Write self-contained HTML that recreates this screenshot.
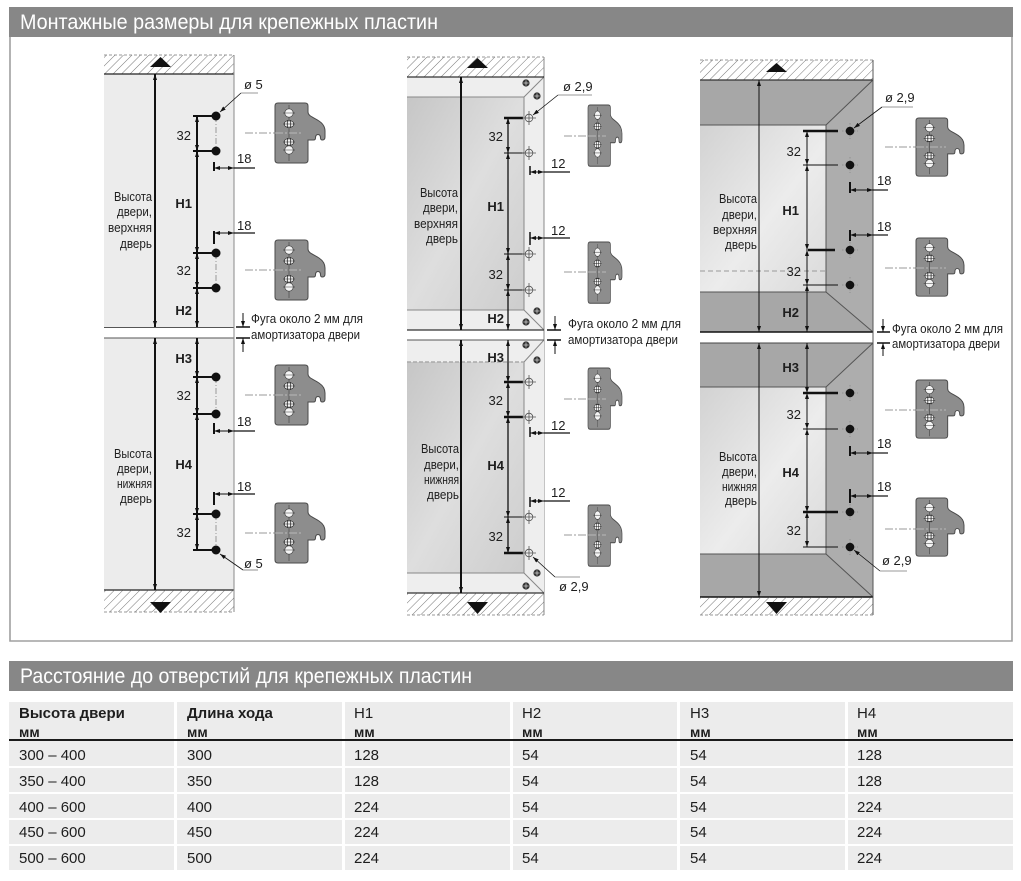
<!DOCTYPE html>
<html><head><meta charset="utf-8">
<style>
html,body{margin:0;padding:0;background:#fff;}
svg{display:block;}
text{font-family:"Liberation Sans","DejaVu Sans",sans-serif;fill:#1e1e1e;}
.w{fill:#fff;}
.b{font-weight:bold;}
.n{font-size:13px;}
.t{font-size:15px;}
</style></head><body>
<svg width="1021" height="881" viewBox="0 0 1021 881" xmlns="http://www.w3.org/2000/svg">
<defs>
<pattern id="hatch" patternUnits="userSpaceOnUse" width="6" height="6" patternTransform="rotate(45)">
  <line x1="0" y1="0" x2="0" y2="6" stroke="#555" stroke-width="0.8"/>
</pattern>
<marker id="ar" viewBox="0 0 6 4" refX="6" refY="2" markerWidth="6" markerHeight="4" markerUnits="userSpaceOnUse" orient="auto-start-reverse"><path d="M0,0 L6,2 L0,4 z" fill="#111"/></marker>
<linearGradient id="g2" x1="0" y1="0" x2="1" y2="1">
  <stop offset="0" stop-color="#c6c6c6"/><stop offset="0.5" stop-color="#dedede"/><stop offset="1" stop-color="#cdcdcd"/>
</linearGradient>
<linearGradient id="g3" x1="0" y1="0" x2="1" y2="1">
  <stop offset="0" stop-color="#d2d2d2"/><stop offset="0.55" stop-color="#ececec"/><stop offset="1" stop-color="#dadada"/>
</linearGradient>
<g id="pl">
<path d="M3,0 H30 Q33,0 33,3 V9 C33,13 38,14 44,18 Q50,22 50,28 V34 Q50,37 47.5,37 Q45.5,37 45.5,35 Q45.5,31.5 43,31.5 Q40.5,31.5 40.5,35 Q40.5,37 38.5,37 H33 V57 Q33,60 30,60 H3 Q0,60 0,57 V3 Q0,0 3,0 Z" fill="#8d8d8d" stroke="#4a4a4a" stroke-width="1"/>
<line x1="14" y1="2" x2="14" y2="58" stroke="#333" stroke-width="0.5"/>
<circle cx="14" cy="10" r="4.2" fill="#f4f4f4" stroke="#333" stroke-width="0.6"/>
<line x1="8" y1="10" x2="20" y2="10" stroke="#333" stroke-width="0.5"/>
<rect x="9.5" y="18" width="9" height="6" rx="2.5" fill="#f4f4f4" stroke="#222" stroke-width="0.6"/>
<line x1="12.3" y1="17" x2="12.3" y2="25" stroke="#222" stroke-width="0.8"/>
<line x1="15.7" y1="17" x2="15.7" y2="25" stroke="#222" stroke-width="0.8"/>
<line x1="8" y1="21" x2="20" y2="21" stroke="#222" stroke-width="0.5"/>
<rect x="9.5" y="36" width="9" height="6" rx="2.5" fill="#f4f4f4" stroke="#222" stroke-width="0.6"/>
<line x1="12.3" y1="35" x2="12.3" y2="43" stroke="#222" stroke-width="0.8"/>
<line x1="15.7" y1="35" x2="15.7" y2="43" stroke="#222" stroke-width="0.8"/>
<line x1="8" y1="39" x2="20" y2="39" stroke="#222" stroke-width="0.5"/>
<circle cx="14" cy="47" r="4.2" fill="#f4f4f4" stroke="#333" stroke-width="0.6"/>
<line x1="8" y1="47" x2="20" y2="47" stroke="#333" stroke-width="0.5"/>
</g>
<g id="scr"><circle r="3.6" fill="#333"/><line x1="-2.5" y1="0" x2="2.5" y2="0" stroke="#ccc" stroke-width="0.8"/><line x1="0" y1="-2.5" x2="0" y2="2.5" stroke="#ccc" stroke-width="0.8"/></g>
</defs>

<!-- header 1 -->
<rect x="9" y="7" width="1004" height="30" fill="#878787"/>
<text x="20" y="29" class="w" font-size="21" textLength="418" lengthAdjust="spacingAndGlyphs">Монтажные размеры для крепежных пластин</text>
<!-- frame -->
<path d="M10,37 V641 H1012 V37" fill="none" stroke="#a0a0a0" stroke-width="1.6"/>

<!-- ================= PANEL 1 ================= -->
<rect x="104" y="55" width="130" height="19" fill="url(#hatch)"/>
<line x1="104" y1="55" x2="234" y2="55" stroke="#777" stroke-width="0.8" stroke-dasharray="3,2"/>
<polygon points="150,67 171,67 160.5,57" fill="#111"/>
<rect x="104" y="74" width="130" height="253" fill="#ececec"/>
<line x1="104" y1="74" x2="234" y2="74" stroke="#222" stroke-width="1.2"/>
<line x1="104" y1="327.5" x2="234" y2="327.5" stroke="#555" stroke-width="1"/>
<rect x="104" y="338" width="130" height="252" fill="#ececec"/>
<line x1="104" y1="338" x2="234" y2="338" stroke="#555" stroke-width="1"/>
<line x1="104" y1="590" x2="234" y2="590" stroke="#222" stroke-width="1.2"/>
<line x1="234" y1="55" x2="234" y2="612" stroke="#8a8a8a" stroke-width="1"/>
<rect x="104" y="590" width="130" height="22" fill="url(#hatch)"/>
<line x1="104" y1="612" x2="234" y2="612" stroke="#777" stroke-width="0.8" stroke-dasharray="3,2"/>
<polygon points="150,602 171,602 160.5,613" fill="#111"/>

<g stroke="#111" stroke-width="2" fill="none">
<line x1="155" y1="74" x2="155" y2="327" marker-start="url(#ar)" marker-end="url(#ar)"/>
<line x1="155" y1="338" x2="155" y2="590" marker-start="url(#ar)" marker-end="url(#ar)"/>
<line x1="197" y1="116" x2="197" y2="151" marker-start="url(#ar)" marker-end="url(#ar)"/>
<line x1="197" y1="151" x2="197" y2="253" marker-start="url(#ar)" marker-end="url(#ar)"/>
<line x1="197" y1="253" x2="197" y2="288" marker-start="url(#ar)" marker-end="url(#ar)"/>
<line x1="197" y1="288" x2="197" y2="327" marker-start="url(#ar)" marker-end="url(#ar)"/>
<line x1="197" y1="338" x2="197" y2="377" marker-start="url(#ar)" marker-end="url(#ar)"/>
<line x1="197" y1="377" x2="197" y2="414" marker-start="url(#ar)" marker-end="url(#ar)"/>
<line x1="197" y1="414" x2="197" y2="514" marker-start="url(#ar)" marker-end="url(#ar)"/>
<line x1="197" y1="514" x2="197" y2="550" marker-start="url(#ar)" marker-end="url(#ar)"/>
<path d="M193,116 H212 M193,151 H212 M193,253 H212 M193,288 H212 M193,377 H212 M193,414 H212 M193,514 H212 M193,550 H212"/>
</g>
<g stroke="#999" stroke-width="1" stroke-dasharray="6,2,1,2">
<line x1="216" y1="116" x2="216" y2="151"/><line x1="216" y1="253" x2="216" y2="288"/>
<line x1="216" y1="377" x2="216" y2="414"/><line x1="216" y1="514" x2="216" y2="550"/>
</g>
<g fill="#111">
<circle cx="216" cy="116" r="4.5"/><circle cx="216" cy="151" r="4.5"/><circle cx="216" cy="253" r="4.5"/><circle cx="216" cy="288" r="4.5"/>
<circle cx="216" cy="377" r="4.5"/><circle cx="216" cy="414" r="4.5"/><circle cx="216" cy="514" r="4.5"/><circle cx="216" cy="550" r="4.5"/>
</g>
<g stroke="#111" fill="none">
<line x1="214" y1="162" x2="214" y2="171" stroke-width="2"/>
<line x1="214" y1="168" x2="234" y2="168" stroke-width="1" marker-start="url(#ar)" marker-end="url(#ar)"/>
<line x1="234" y1="168" x2="255" y2="168" stroke-width="1.2"/>
<line x1="214" y1="231" x2="214" y2="244" stroke-width="2"/>
<line x1="214" y1="233" x2="234" y2="233" stroke-width="1" marker-start="url(#ar)" marker-end="url(#ar)"/>
<line x1="234" y1="233" x2="255" y2="233" stroke-width="1.2"/>
<line x1="214" y1="423" x2="214" y2="434" stroke-width="2"/>
<line x1="214" y1="431" x2="234" y2="431" stroke-width="1" marker-start="url(#ar)" marker-end="url(#ar)"/>
<line x1="234" y1="431" x2="255" y2="431" stroke-width="1.2"/>
<line x1="214" y1="492" x2="214" y2="505" stroke-width="2"/>
<line x1="214" y1="494" x2="234" y2="494" stroke-width="1" marker-start="url(#ar)" marker-end="url(#ar)"/>
<line x1="234" y1="494" x2="255" y2="494" stroke-width="1.2"/>
<path d="M241,93 L220,112" stroke-width="0.8" marker-end="url(#ar)"/>
<path d="M241,93 H258" stroke="#777" stroke-width="0.8"/>
<path d="M243,570 L220,554" stroke-width="0.8" marker-end="url(#ar)"/>
<path d="M243,570 H258" stroke="#777" stroke-width="0.8"/>
<path d="M236,327 H250 M236,338 H250" stroke-width="1.6"/>
<line x1="243" y1="313" x2="243" y2="327" stroke-width="1" marker-end="url(#ar)"/>
<line x1="243" y1="352" x2="243" y2="338" stroke-width="1" marker-end="url(#ar)"/>
</g>
<g class="n">
<text x="152" y="201" text-anchor="end" textLength="38" lengthAdjust="spacingAndGlyphs">Высота</text>
<text x="152" y="216" text-anchor="end" textLength="35" lengthAdjust="spacingAndGlyphs">двери,</text>
<text x="152" y="232" text-anchor="end" textLength="44" lengthAdjust="spacingAndGlyphs">верхняя</text>
<text x="152" y="248" text-anchor="end" textLength="32" lengthAdjust="spacingAndGlyphs">дверь</text>
<text x="152" y="458" text-anchor="end" textLength="38" lengthAdjust="spacingAndGlyphs">Высота</text>
<text x="152" y="473" text-anchor="end" textLength="35" lengthAdjust="spacingAndGlyphs">двери,</text>
<text x="152" y="488" text-anchor="end" textLength="35" lengthAdjust="spacingAndGlyphs">нижняя</text>
<text x="152" y="503" text-anchor="end" textLength="32" lengthAdjust="spacingAndGlyphs">дверь</text>
<text x="191" y="140" text-anchor="end">32</text>
<text x="192" y="208" text-anchor="end" class="b">H1</text>
<text x="191" y="275" text-anchor="end">32</text>
<text x="192" y="315" text-anchor="end" class="b">H2</text>
<text x="192" y="363" text-anchor="end" class="b">H3</text>
<text x="191" y="400" text-anchor="end">32</text>
<text x="192" y="469" text-anchor="end" class="b">H4</text>
<text x="191" y="537" text-anchor="end">32</text>
<text x="237" y="163">18</text>
<text x="237" y="230">18</text>
<text x="237" y="426">18</text>
<text x="237" y="491">18</text>
<text x="244" y="89">ø 5</text>
<text x="244" y="568">ø 5</text>
<text x="251" y="323" textLength="112" lengthAdjust="spacingAndGlyphs">Фуга около 2 мм для</text>
<text x="251" y="339" textLength="109" lengthAdjust="spacingAndGlyphs">амортизатора двери</text>
</g>
<use href="#pl" transform="translate(275,103)"/>
<use href="#pl" transform="translate(275,240)"/>
<use href="#pl" transform="translate(275,365)"/>
<use href="#pl" transform="translate(275,503)"/>
<g stroke="#777" stroke-width="0.8" stroke-dasharray="8,2,2,2">
<line x1="245" y1="133" x2="275" y2="133"/><line x1="245" y1="270" x2="275" y2="270"/>
<line x1="245" y1="395" x2="275" y2="395"/><line x1="245" y1="533" x2="275" y2="533"/>
</g>
<g stroke="#c8c8c8" stroke-width="0.8" stroke-dasharray="8,2,2,2">
<line x1="275" y1="133" x2="303" y2="133"/><line x1="275" y1="270" x2="303" y2="270"/>
<line x1="275" y1="395" x2="303" y2="395"/><line x1="275" y1="533" x2="303" y2="533"/>
</g>

<!-- ================= PANEL 2 ================= -->
<rect x="407" y="57" width="137" height="20" fill="url(#hatch)"/>
<line x1="407" y1="57" x2="544" y2="57" stroke="#777" stroke-width="0.8" stroke-dasharray="3,2"/>
<polygon points="467,68 488,68 477.5,58" fill="#111"/>
<rect x="407" y="77" width="137" height="253" fill="#eeeeee"/>
<rect x="407" y="97" width="117" height="213" fill="url(#g2)"/>
<g stroke="#888" stroke-width="1" fill="none">
<path d="M407,97 H524 V310 H407"/>
<path d="M524,97 L544,77 M524,310 L544,330"/>
<line x1="544" y1="57" x2="544" y2="615" stroke="#888"/>
</g>
<line x1="407" y1="77" x2="544" y2="77" stroke="#333" stroke-width="1.2"/>
<line x1="407" y1="330" x2="544" y2="330" stroke="#333" stroke-width="1.2"/>
<rect x="407" y="340" width="137" height="253" fill="#eeeeee"/>
<rect x="407" y="362" width="117" height="211" fill="url(#g2)"/>
<g stroke="#888" stroke-width="1" fill="none">
<path d="M407,573 H524 V362"/>
<path d="M524,362 L544,340 M524,573 L544,593"/>
</g>
<line x1="407" y1="362" x2="524" y2="362" stroke="#aaa" stroke-width="1.5" stroke-dasharray="4,2"/>
<line x1="407" y1="340" x2="544" y2="340" stroke="#555" stroke-width="1"/>
<line x1="407" y1="593" x2="544" y2="593" stroke="#333" stroke-width="1.2"/>
<rect x="407" y="593" width="137" height="22" fill="url(#hatch)"/>
<line x1="407" y1="615" x2="544" y2="615" stroke="#777" stroke-width="0.8" stroke-dasharray="3,2"/>
<polygon points="467,602 488,602 477.5,614" fill="#111"/>
<use href="#scr" transform="translate(526,83)"/><use href="#scr" transform="translate(537,96)"/>
<use href="#scr" transform="translate(537,311)"/><use href="#scr" transform="translate(526,322)"/>
<use href="#scr" transform="translate(526,345)"/><use href="#scr" transform="translate(537,360)"/>
<use href="#scr" transform="translate(537,573)"/><use href="#scr" transform="translate(526,586)"/>

<g stroke="#111" fill="none">
<line x1="461" y1="77" x2="461" y2="330" stroke-width="2" marker-start="url(#ar)" marker-end="url(#ar)"/>
<line x1="461" y1="340" x2="461" y2="593" stroke-width="2" marker-start="url(#ar)" marker-end="url(#ar)"/>
<g stroke-width="1.3">
<line x1="508" y1="118" x2="508" y2="153" marker-start="url(#ar)" marker-end="url(#ar)"/>
<line x1="508" y1="153" x2="508" y2="254" marker-start="url(#ar)" marker-end="url(#ar)"/>
<line x1="508" y1="254" x2="508" y2="290" marker-start="url(#ar)" marker-end="url(#ar)"/>
<line x1="508" y1="290" x2="508" y2="330" marker-start="url(#ar)" marker-end="url(#ar)"/>
<line x1="508" y1="340" x2="508" y2="382" marker-start="url(#ar)" marker-end="url(#ar)"/>
<line x1="508" y1="382" x2="508" y2="417" marker-start="url(#ar)" marker-end="url(#ar)"/>
<line x1="508" y1="417" x2="508" y2="517" marker-start="url(#ar)" marker-end="url(#ar)"/>
<line x1="508" y1="517" x2="508" y2="553" marker-start="url(#ar)" marker-end="url(#ar)"/>
</g>
<path d="M504,118 H523 M504,382 H523 M504,417 H523 M504,553 H523" stroke-width="2.5"/>
<path d="M504,153 H524 M504,254 H524 M504,290 H524 M504,517 H524" stroke-width="1"/>
</g>
<g stroke="#555" stroke-width="0.8" fill="none">
<circle cx="529" cy="118" r="3.8"/><circle cx="529" cy="153" r="3.8"/><circle cx="529" cy="254" r="3.8"/><circle cx="529" cy="290" r="3.8"/>
<circle cx="529" cy="382" r="3.8"/><circle cx="529" cy="417" r="3.8"/><circle cx="529" cy="517" r="3.8"/><circle cx="529" cy="553" r="3.8"/>
<path d="M522,118 H536 M529,111 V125 M522,153 H536 M529,146 V160 M522,254 H536 M529,247 V261 M522,290 H536 M529,283 V297 M522,382 H536 M529,375 V389 M522,417 H536 M529,410 V424 M522,517 H536 M529,510 V524 M522,553 H536 M529,546 V560"/>
</g>
<g stroke="#111" fill="none">
<line x1="530" y1="166" x2="530" y2="175" stroke-width="1.5"/>
<line x1="530" y1="172" x2="544" y2="172" stroke-width="1" marker-start="url(#ar)" marker-end="url(#ar)"/>
<line x1="544" y1="172" x2="570" y2="172" stroke-width="1.2"/>
<line x1="530" y1="232" x2="530" y2="245" stroke-width="1.5"/>
<line x1="530" y1="238" x2="544" y2="238" stroke-width="1" marker-start="url(#ar)" marker-end="url(#ar)"/>
<line x1="544" y1="238" x2="570" y2="238" stroke-width="1.2"/>
<line x1="530" y1="427" x2="530" y2="437" stroke-width="1.5"/>
<line x1="530" y1="433" x2="544" y2="433" stroke-width="1" marker-start="url(#ar)" marker-end="url(#ar)"/>
<line x1="544" y1="433" x2="570" y2="433" stroke-width="1.2"/>
<line x1="530" y1="497" x2="530" y2="507" stroke-width="1.5"/>
<line x1="530" y1="501" x2="544" y2="501" stroke-width="1" marker-start="url(#ar)" marker-end="url(#ar)"/>
<line x1="544" y1="501" x2="570" y2="501" stroke-width="1.2"/>
<path d="M558,95 L533,115" stroke-width="0.8" marker-end="url(#ar)"/>
<path d="M558,95 H592" stroke="#777" stroke-width="0.8"/>
<path d="M555,577 L533,557" stroke-width="0.8" marker-end="url(#ar)"/>
<path d="M555,577 H580" stroke="#777" stroke-width="0.8"/>
<path d="M547,330 H561 M547,340 H561" stroke-width="1.6"/>
<line x1="555" y1="316" x2="555" y2="330" stroke-width="1" marker-end="url(#ar)"/>
<line x1="555" y1="354" x2="555" y2="340" stroke-width="1" marker-end="url(#ar)"/>
</g>
<g class="n">
<text x="458" y="197" text-anchor="end" textLength="38" lengthAdjust="spacingAndGlyphs">Высота</text>
<text x="458" y="212" text-anchor="end" textLength="35" lengthAdjust="spacingAndGlyphs">двери,</text>
<text x="458" y="228" text-anchor="end" textLength="44" lengthAdjust="spacingAndGlyphs">верхняя</text>
<text x="458" y="243" text-anchor="end" textLength="32" lengthAdjust="spacingAndGlyphs">дверь</text>
<text x="459" y="453" text-anchor="end" textLength="38" lengthAdjust="spacingAndGlyphs">Высота</text>
<text x="459" y="469" text-anchor="end" textLength="35" lengthAdjust="spacingAndGlyphs">двери,</text>
<text x="459" y="484" text-anchor="end" textLength="35" lengthAdjust="spacingAndGlyphs">нижняя</text>
<text x="459" y="499" text-anchor="end" textLength="32" lengthAdjust="spacingAndGlyphs">дверь</text>
<text x="503" y="141" text-anchor="end">32</text>
<text x="504" y="211" text-anchor="end" class="b">H1</text>
<text x="503" y="279" text-anchor="end">32</text>
<text x="504" y="323" text-anchor="end" class="b">H2</text>
<text x="504" y="362" text-anchor="end" class="b">H3</text>
<text x="503" y="405" text-anchor="end">32</text>
<text x="504" y="470" text-anchor="end" class="b">H4</text>
<text x="503" y="541" text-anchor="end">32</text>
<text x="551" y="168">12</text>
<text x="551" y="235">12</text>
<text x="551" y="430">12</text>
<text x="551" y="497">12</text>
<text x="563" y="91">ø 2,9</text>
<text x="559" y="591">ø 2,9</text>
<text x="568" y="328" textLength="113" lengthAdjust="spacingAndGlyphs">Фуга около 2 мм для</text>
<text x="568" y="344" textLength="110" lengthAdjust="spacingAndGlyphs">амортизатора двери</text>
</g>
<use href="#pl" transform="translate(588,105) scale(0.68,1.02)"/>
<use href="#pl" transform="translate(588,242) scale(0.68,1.02)"/>
<use href="#pl" transform="translate(588,368) scale(0.68,1.02)"/>
<use href="#pl" transform="translate(588,505) scale(0.68,1.02)"/>
<g stroke="#777" stroke-width="0.8" stroke-dasharray="8,2,2,2">
<line x1="564" y1="136" x2="588" y2="136"/><line x1="564" y1="272" x2="588" y2="272"/>
<line x1="564" y1="399" x2="588" y2="399"/><line x1="564" y1="535" x2="588" y2="535"/>
</g>
<g stroke="#c8c8c8" stroke-width="0.8" stroke-dasharray="8,2,2,2">
<line x1="588" y1="136" x2="606" y2="136"/><line x1="588" y1="272" x2="606" y2="272"/>
<line x1="588" y1="399" x2="606" y2="399"/><line x1="588" y1="535" x2="606" y2="535"/>
</g>

<!-- ================= PANEL 3 ================= -->
<rect x="700" y="60" width="173" height="20" fill="url(#hatch)"/>
<line x1="700" y1="60" x2="873" y2="60" stroke="#777" stroke-width="0.8" stroke-dasharray="3,2"/>
<polygon points="766,72 787,72 776.5,63" fill="#111"/>
<rect x="700" y="80" width="173" height="252" fill="#a7a7a7"/>
<polygon points="826,125 873,80 873,332 826,292" fill="#adadad"/>
<rect x="700" y="125" width="126" height="167" fill="url(#g3)"/>
<g stroke="#555" stroke-width="1" fill="none">
<path d="M700,125 H826 V292 H700"/>
<path d="M826,125 L873,80 M826,292 L873,332"/>
</g>
<line x1="700" y1="271" x2="826" y2="271" stroke="#999" stroke-width="1" stroke-dasharray="5,3"/>
<line x1="700" y1="80" x2="873" y2="80" stroke="#333" stroke-width="1.2"/>
<line x1="700" y1="332" x2="873" y2="332" stroke="#111" stroke-width="1.6"/>
<rect x="700" y="343" width="173" height="254" fill="#a7a7a7"/>
<polygon points="826,387 873,343 873,597 826,554" fill="#adadad"/>
<rect x="700" y="387" width="126" height="167" fill="url(#g3)"/>
<g stroke="#555" stroke-width="1" fill="none">
<path d="M700,387 H826 V554 H700"/>
<path d="M826,387 L873,343 M826,554 L873,597"/>
</g>
<line x1="700" y1="343" x2="873" y2="343" stroke="#444" stroke-width="1"/>
<line x1="700" y1="597" x2="873" y2="597" stroke="#111" stroke-width="1.4"/>
<line x1="873" y1="60" x2="873" y2="615" stroke="#555" stroke-width="1"/>
<rect x="700" y="597" width="173" height="18" fill="url(#hatch)"/>
<line x1="700" y1="615" x2="873" y2="615" stroke="#777" stroke-width="0.8" stroke-dasharray="3,2"/>
<polygon points="766,602 787,602 776.5,614" fill="#111"/>

<g stroke="#111" fill="none" stroke-width="1">
<line x1="759" y1="80" x2="759" y2="332" marker-start="url(#ar)" marker-end="url(#ar)"/>
<line x1="759" y1="343" x2="759" y2="597" marker-start="url(#ar)" marker-end="url(#ar)"/>
<line x1="807" y1="131" x2="807" y2="165" marker-start="url(#ar)" marker-end="url(#ar)"/>
<line x1="807" y1="165" x2="807" y2="250" marker-start="url(#ar)" marker-end="url(#ar)"/>
<line x1="807" y1="250" x2="807" y2="285" marker-start="url(#ar)" marker-end="url(#ar)"/>
<line x1="807" y1="285" x2="807" y2="332" marker-start="url(#ar)" marker-end="url(#ar)"/>
<line x1="807" y1="343" x2="807" y2="393" marker-start="url(#ar)" marker-end="url(#ar)"/>
<line x1="807" y1="393" x2="807" y2="429" marker-start="url(#ar)" marker-end="url(#ar)"/>
<line x1="807" y1="429" x2="807" y2="512" marker-start="url(#ar)" marker-end="url(#ar)"/>
<line x1="807" y1="512" x2="807" y2="547" marker-start="url(#ar)" marker-end="url(#ar)"/>
<path d="M803,131 H838 M808,250 H835 M803,393 H838 M803,512 H838" stroke-width="2.5"/>
<path d="M803,165 H838 M803,285 H838 M803,429 H838 M803,547 H838" stroke-width="1"/>
</g>
<g stroke="#888" stroke-width="0.8" stroke-dasharray="1.5,1.5">
<path d="M842,131 H858 M850,123 V139 M842,165 H858 M850,157 V173 M842,250 H858 M850,242 V258 M842,285 H858 M850,277 V293 M842,393 H858 M850,385 V401 M842,429 H858 M850,421 V437 M842,512 H858 M850,504 V520 M842,547 H858 M850,539 V555"/>
</g>
<g fill="#111">
<circle cx="850" cy="131" r="4.3"/><circle cx="850" cy="165" r="4.3"/><circle cx="850" cy="250" r="4.3"/><circle cx="850" cy="285" r="4.3"/>
<circle cx="850" cy="393" r="4.3"/><circle cx="850" cy="429" r="4.3"/><circle cx="850" cy="512" r="4.3"/><circle cx="850" cy="547" r="4.3"/>
</g>
<g stroke="#111" fill="none">
<line x1="850" y1="182" x2="850" y2="193" stroke-width="2"/>
<line x1="850" y1="190" x2="873" y2="190" stroke-width="1" marker-start="url(#ar)" marker-end="url(#ar)"/>
<line x1="873" y1="190" x2="888" y2="190" stroke-width="1.2"/>
<line x1="850" y1="230" x2="850" y2="241" stroke-width="2"/>
<line x1="850" y1="235" x2="873" y2="235" stroke-width="1" marker-start="url(#ar)" marker-end="url(#ar)"/>
<line x1="873" y1="235" x2="888" y2="235" stroke-width="1.2"/>
<line x1="850" y1="446" x2="850" y2="456" stroke-width="2"/>
<line x1="850" y1="453" x2="873" y2="453" stroke-width="1" marker-start="url(#ar)" marker-end="url(#ar)"/>
<line x1="873" y1="453" x2="888" y2="453" stroke-width="1.2"/>
<line x1="850" y1="489" x2="850" y2="503" stroke-width="2"/>
<line x1="850" y1="496" x2="873" y2="496" stroke-width="1" marker-start="url(#ar)" marker-end="url(#ar)"/>
<line x1="873" y1="496" x2="888" y2="496" stroke-width="1.2"/>
<path d="M882,107 L854,128" stroke-width="0.8" marker-end="url(#ar)"/>
<path d="M882,107 H913" stroke="#777" stroke-width="0.8"/>
<path d="M880,571 L854,550" stroke-width="0.8" marker-end="url(#ar)"/>
<path d="M880,571 H907" stroke="#777" stroke-width="0.8"/>
<path d="M877,332 H890 M877,343 H890" stroke-width="1.6"/>
<line x1="883" y1="319" x2="883" y2="332" stroke-width="1" marker-end="url(#ar)"/>
<line x1="883" y1="356" x2="883" y2="343" stroke-width="1" marker-end="url(#ar)"/>
</g>
<g class="n">
<text x="757" y="203" text-anchor="end" textLength="38" lengthAdjust="spacingAndGlyphs">Высота</text>
<text x="757" y="219" text-anchor="end" textLength="35" lengthAdjust="spacingAndGlyphs">двери,</text>
<text x="757" y="234" text-anchor="end" textLength="44" lengthAdjust="spacingAndGlyphs">верхняя</text>
<text x="757" y="249" text-anchor="end" textLength="32" lengthAdjust="spacingAndGlyphs">дверь</text>
<text x="757" y="461" text-anchor="end" textLength="38" lengthAdjust="spacingAndGlyphs">Высота</text>
<text x="757" y="476" text-anchor="end" textLength="35" lengthAdjust="spacingAndGlyphs">двери,</text>
<text x="757" y="491" text-anchor="end" textLength="35" lengthAdjust="spacingAndGlyphs">нижняя</text>
<text x="757" y="505" text-anchor="end" textLength="32" lengthAdjust="spacingAndGlyphs">дверь</text>
<text x="801" y="156" text-anchor="end">32</text>
<text x="799" y="215" text-anchor="end" class="b">H1</text>
<text x="801" y="276" text-anchor="end">32</text>
<text x="799" y="317" text-anchor="end" class="b">H2</text>
<text x="799" y="372" text-anchor="end" class="b">H3</text>
<text x="801" y="419" text-anchor="end">32</text>
<text x="799" y="477" text-anchor="end" class="b">H4</text>
<text x="801" y="535" text-anchor="end">32</text>
<text x="877" y="185">18</text>
<text x="877" y="231">18</text>
<text x="877" y="448">18</text>
<text x="877" y="491">18</text>
<text x="885" y="102">ø 2,9</text>
<text x="882" y="565">ø 2,9</text>
<text x="892" y="333" textLength="111" lengthAdjust="spacingAndGlyphs">Фуга около 2 мм для</text>
<text x="892" y="348" textLength="108" lengthAdjust="spacingAndGlyphs">амортизатора двери</text>
</g>
<use href="#pl" transform="translate(916,118) scale(0.96,0.97)"/>
<use href="#pl" transform="translate(916,238) scale(0.96,0.97)"/>
<use href="#pl" transform="translate(916,380) scale(0.96,0.97)"/>
<use href="#pl" transform="translate(916,498) scale(0.96,0.97)"/>
<g stroke="#777" stroke-width="0.8" stroke-dasharray="8,2,2,2">
<line x1="885" y1="147" x2="916" y2="147"/><line x1="885" y1="268" x2="916" y2="268"/>
<line x1="885" y1="410" x2="916" y2="410"/><line x1="885" y1="529" x2="916" y2="529"/>
</g>
<g stroke="#c8c8c8" stroke-width="0.8" stroke-dasharray="8,2,2,2">
<line x1="916" y1="147" x2="946" y2="147"/><line x1="916" y1="268" x2="946" y2="268"/>
<line x1="916" y1="410" x2="946" y2="410"/><line x1="916" y1="529" x2="946" y2="529"/>
</g>

<!-- ================= TABLE ================= -->
<rect x="9" y="661" width="1004" height="30" fill="#878787"/>
<text x="20" y="683" class="w" font-size="21" textLength="452" lengthAdjust="spacingAndGlyphs">Расстояние до отверстий для крепежных пластин</text>
<g fill="#ececec">
<rect x="9" y="702" width="165" height="37"/><rect x="177" y="702" width="165" height="37"/><rect x="345" y="702" width="165" height="37"/><rect x="513" y="702" width="164" height="37"/><rect x="680" y="702" width="165" height="37"/><rect x="848" y="702" width="165" height="37"/>
<rect x="9" y="741" width="165" height="25"/><rect x="177" y="741" width="165" height="25"/><rect x="345" y="741" width="165" height="25"/><rect x="513" y="741" width="164" height="25"/><rect x="680" y="741" width="165" height="25"/><rect x="848" y="741" width="165" height="25"/>
<rect x="9" y="768" width="165" height="24"/><rect x="177" y="768" width="165" height="24"/><rect x="345" y="768" width="165" height="24"/><rect x="513" y="768" width="164" height="24"/><rect x="680" y="768" width="165" height="24"/><rect x="848" y="768" width="165" height="24"/>
<rect x="9" y="794" width="165" height="24"/><rect x="177" y="794" width="165" height="24"/><rect x="345" y="794" width="165" height="24"/><rect x="513" y="794" width="164" height="24"/><rect x="680" y="794" width="165" height="24"/><rect x="848" y="794" width="165" height="24"/>
<rect x="9" y="820" width="165" height="24"/><rect x="177" y="820" width="165" height="24"/><rect x="345" y="820" width="165" height="24"/><rect x="513" y="820" width="164" height="24"/><rect x="680" y="820" width="165" height="24"/><rect x="848" y="820" width="165" height="24"/>
<rect x="9" y="846" width="165" height="24"/><rect x="177" y="846" width="165" height="24"/><rect x="345" y="846" width="165" height="24"/><rect x="513" y="846" width="164" height="24"/><rect x="680" y="846" width="165" height="24"/><rect x="848" y="846" width="165" height="24"/>
</g>
<line x1="9" y1="740" x2="1013" y2="740" stroke="#1a1a1a" stroke-width="2"/>
<g class="t">
<text x="19" y="718" class="b">Высота двери</text>
<text x="187" y="718" class="b">Длина хода</text>
<text x="354" y="718">H1</text>
<text x="522" y="718">H2</text>
<text x="690" y="718">H3</text>
<text x="857" y="718">H4</text>
</g>
<g font-size="14" class="b">
<text x="19" y="737" class="b">мм</text>
<text x="187" y="737" class="b">мм</text>
<text x="354" y="737" class="b">мм</text>
<text x="522" y="737" class="b">мм</text>
<text x="690" y="737" class="b">мм</text>
<text x="857" y="737" class="b">мм</text>
</g>
<g class="t">
<text x="19" y="760">300 – 400</text><text x="187" y="760">300</text><text x="354" y="760">128</text><text x="522" y="760">54</text><text x="690" y="760">54</text><text x="857" y="760">128</text>
<text x="19" y="786">350 – 400</text><text x="187" y="786">350</text><text x="354" y="786">128</text><text x="522" y="786">54</text><text x="690" y="786">54</text><text x="857" y="786">128</text>
<text x="19" y="812">400 – 600</text><text x="187" y="812">400</text><text x="354" y="812">224</text><text x="522" y="812">54</text><text x="690" y="812">54</text><text x="857" y="812">224</text>
<text x="19" y="837">450 – 600</text><text x="187" y="837">450</text><text x="354" y="837">224</text><text x="522" y="837">54</text><text x="690" y="837">54</text><text x="857" y="837">224</text>
<text x="19" y="863">500 – 600</text><text x="187" y="863">500</text><text x="354" y="863">224</text><text x="522" y="863">54</text><text x="690" y="863">54</text><text x="857" y="863">224</text>
</g>
</svg>
</body></html>
